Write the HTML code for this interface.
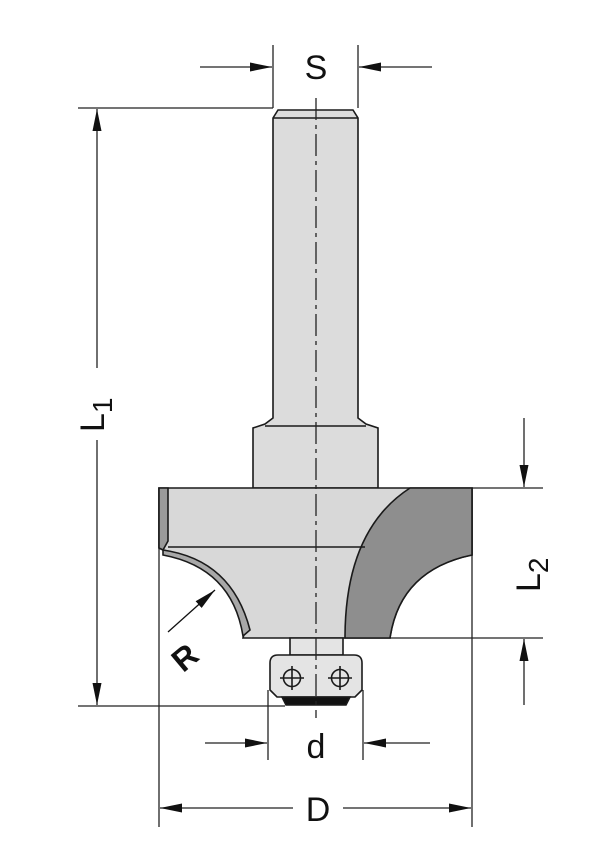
<!DOCTYPE html>
<html><head><meta charset="utf-8"><style>
html,body{margin:0;padding:0;background:#fff;width:613px;height:867px;overflow:hidden}
svg{display:block}
text{font-family:"Liberation Sans",sans-serif;fill:#111}
</style></head><body>
<svg width="613" height="867" viewBox="0 0 613 867" xmlns="http://www.w3.org/2000/svg">
<defs>
<marker id="a" viewBox="0 0 22 10" refX="22" refY="5" markerWidth="22" markerHeight="10" markerUnits="userSpaceOnUse" orient="auto"><path d="M0,0.5 L22,5 L0,9.5Z" fill="#111"/></marker>
</defs>
<g stroke="#222" stroke-width="1.3" fill="none">
<line x1="273" y1="45" x2="273" y2="108"/><line x1="358" y1="45" x2="358" y2="108"/>
<line x1="200" y1="67" x2="272" y2="67" marker-end="url(#a)"/>
<line x1="432" y1="67" x2="359" y2="67" marker-end="url(#a)"/>
<line x1="78" y1="108" x2="273" y2="108"/>
<line x1="78" y1="706" x2="285" y2="706"/>
<line x1="97" y1="368" x2="97" y2="109" marker-end="url(#a)"/>
<line x1="97" y1="440" x2="97" y2="705" marker-end="url(#a)"/>
<line x1="472" y1="488" x2="543" y2="488"/><line x1="390" y1="638" x2="543" y2="638"/>
<line x1="524" y1="418" x2="524" y2="487" marker-end="url(#a)"/>
<line x1="524" y1="705" x2="524" y2="639" marker-end="url(#a)"/>
<line x1="268" y1="690" x2="268" y2="760"/><line x1="363" y1="690" x2="363" y2="760"/>
<line x1="205" y1="743" x2="267" y2="743" marker-end="url(#a)"/>
<line x1="430" y1="743" x2="364" y2="743" marker-end="url(#a)"/>
<line x1="159" y1="488" x2="159" y2="827"/><line x1="472" y1="488" x2="472" y2="827"/>
<line x1="293" y1="808" x2="160" y2="808" marker-end="url(#a)"/>
<line x1="343" y1="808" x2="471" y2="808" marker-end="url(#a)"/>
</g>
<g stroke="#1a1a1a" stroke-width="1.6">
<path d="M273,118 L278,110 L353,110 L358,118 L358,418 L366,424 L378,428 L378,488 L253,488 L253,428 L265,424 L273,418Z" fill="#dcdcdc"/>
<line x1="273" y1="118" x2="358" y2="118"/>
<line x1="265" y1="426" x2="366" y2="426"/>
<path d="M159,488 L472,488 L472,555 Q400,570 390,638 L243,638 L245,630 Q235,565 163,550 L159,548Z" fill="#d8d8d8"/>
<path d="M159,488 L168,488 L168,541 L163,550 L159,548Z" fill="#9a9a9a"/>
<path d="M163,550 Q232,560 250,630 L243,636 Q232,568 163,555Z" fill="#a8a8a8"/>
<path d="M410,488 L472,488 L472,555 Q400,570 390,638 L345,638 Q345,530 410,488Z" fill="#8e8e8e"/>
<line x1="168" y1="547" x2="365" y2="547"/>
<path d="M290,638 L343,638 L343,655 L290,655Z" fill="#e4e4e4"/>
<path d="M278,655 L354,655 Q362,655 362,663 L362,690 L355,697 L277,697 L270,690 L270,663 Q270,655 278,655Z" fill="#e4e4e4"/>
<path d="M282,697 L350,697 L346,705 L286,705Z" fill="#111"/>
<circle cx="292" cy="678" r="8.5" fill="none"/><circle cx="340" cy="678" r="8.5" fill="none"/>
<line x1="280" y1="678" x2="304" y2="678"/><line x1="292" y1="666" x2="292" y2="690"/>
<line x1="328" y1="678" x2="352" y2="678"/><line x1="340" y1="666" x2="340" y2="690"/>
</g>
<line x1="316" y1="98" x2="316" y2="718" stroke="#222" stroke-width="1.3" stroke-dasharray="22,5,4,5"/>
<line x1="168" y1="632" x2="215" y2="590" stroke="#111" stroke-width="1.3" marker-end="url(#a)"/>
<text x="0" y="0" font-size="32" transform="translate(192,666) rotate(-40)" text-anchor="middle" font-weight="bold">R</text>
<text x="316" y="79" font-size="34" text-anchor="middle">S</text>
<text x="316" y="758" font-size="34" text-anchor="middle">d</text>
<text x="318" y="821" font-size="34" text-anchor="middle">D</text>
<g transform="translate(104,432) rotate(-90)"><text font-size="34">L<tspan font-size="28" dy="8">1</tspan></text></g>
<g transform="translate(540,592) rotate(-90)"><text font-size="34">L<tspan font-size="28" dy="8">2</tspan></text></g>
</svg>
</body></html>
